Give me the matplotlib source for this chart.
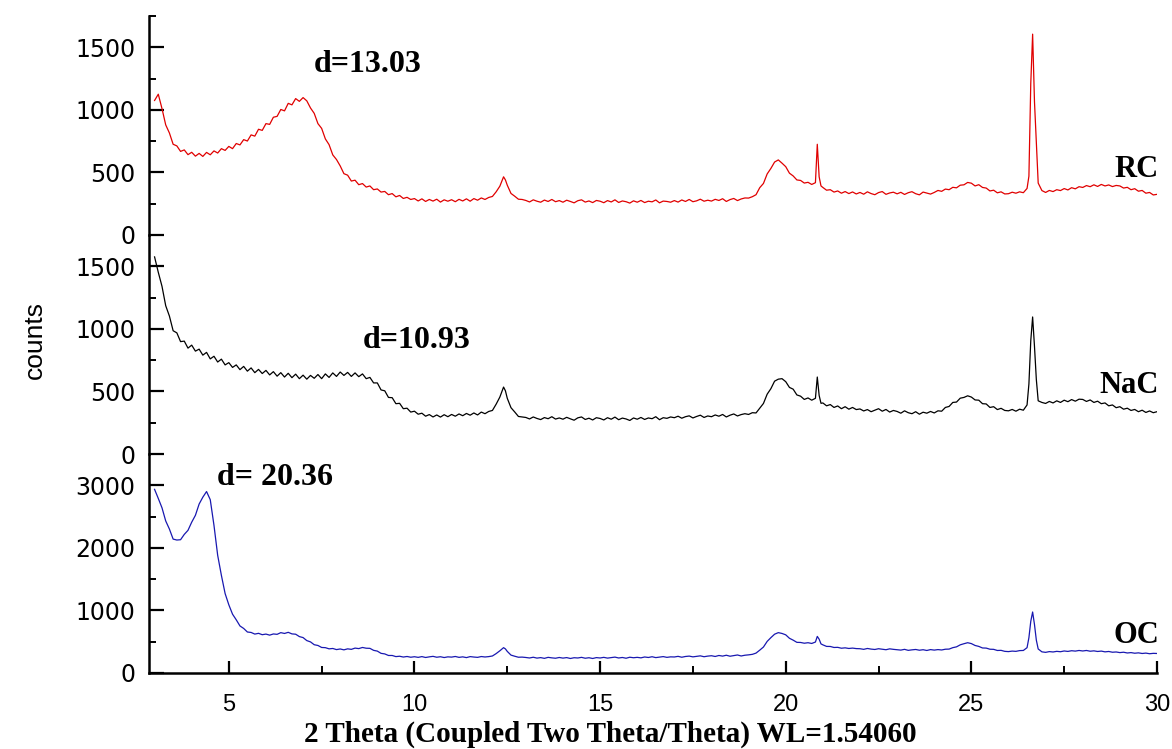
import matplotlib
matplotlib.use("Agg")
import matplotlib.pyplot as plt
from matplotlib.ticker import MultipleLocator

# 2 theta scan positions (degrees), shared by the three patterns
two_theta = [
    3.0, 3.1, 3.2, 3.3, 3.4, 3.5, 3.6, 3.7, 3.8, 3.9,
    4.0, 4.1, 4.2, 4.3, 4.4, 4.5, 4.6, 4.7, 4.8, 4.9,
    5.0, 5.1, 5.2, 5.3, 5.4, 5.5, 5.6, 5.7, 5.8, 5.9,
    6.0, 6.1, 6.2, 6.3, 6.4, 6.5, 6.6, 6.7, 6.8, 6.9,
    7.0, 7.1, 7.2, 7.3, 7.4, 7.5, 7.6, 7.7, 7.8, 7.9,
    8.0, 8.1, 8.2, 8.3, 8.4, 8.5, 8.6, 8.7, 8.8, 8.9,
    9.0, 9.1, 9.2, 9.3, 9.4, 9.5, 9.6, 9.7, 9.8, 9.9,
    10.0, 10.1, 10.2, 10.3, 10.4, 10.5, 10.6, 10.7, 10.8, 10.9,
    11.0, 11.1, 11.2, 11.3, 11.4, 11.5, 11.6, 11.7, 11.8, 11.9,
    12.0, 12.1, 12.2, 12.3, 12.4, 12.45, 12.5, 12.6, 12.7, 12.8, 12.9,
    13.0, 13.1, 13.2, 13.3, 13.4, 13.5, 13.6, 13.7, 13.8, 13.9,
    14.0, 14.1, 14.2, 14.3, 14.4, 14.5, 14.6, 14.7, 14.8, 14.9,
    15.0, 15.1, 15.2, 15.3, 15.4, 15.5, 15.6, 15.7, 15.8, 15.9,
    16.0, 16.1, 16.2, 16.3, 16.4, 16.5, 16.6, 16.7, 16.8, 16.9,
    17.0, 17.1, 17.2, 17.3, 17.4, 17.5, 17.6, 17.7, 17.8, 17.9,
    18.0, 18.1, 18.2, 18.3, 18.4, 18.5, 18.6, 18.7, 18.8, 18.9,
    19.0, 19.1, 19.2, 19.3, 19.4, 19.5, 19.6, 19.7, 19.8, 19.9,
    20.0, 20.1, 20.2, 20.3, 20.4, 20.5, 20.6, 20.7, 20.8, 20.85, 20.9, 20.95,
    21.0, 21.1, 21.2, 21.3, 21.4, 21.5, 21.6, 21.7, 21.8, 21.9,
    22.0, 22.1, 22.2, 22.3, 22.4, 22.5, 22.6, 22.7, 22.8, 22.9,
    23.0, 23.1, 23.2, 23.3, 23.4, 23.5, 23.6, 23.7, 23.8, 23.9,
    24.0, 24.1, 24.2, 24.3, 24.4, 24.5, 24.6, 24.7, 24.8, 24.9,
    25.0, 25.1, 25.2, 25.3, 25.4, 25.5, 25.6, 25.7, 25.8, 25.9,
    26.0, 26.1, 26.2, 26.3, 26.4, 26.5, 26.55, 26.6, 26.65, 26.7, 26.75, 26.8, 26.9,
    27.0, 27.1, 27.2, 27.3, 27.4, 27.5, 27.6, 27.7, 27.8, 27.9,
    28.0, 28.1, 28.2, 28.3, 28.4, 28.5, 28.6, 28.7, 28.8, 28.9,
    29.0, 29.1, 29.2, 29.3, 29.4, 29.5, 29.6, 29.7, 29.8, 29.9,
    30.0,
]

rc_counts = [
    1075, 1125, 1010, 880, 815, 725, 712, 668, 680, 642,
    661, 630, 652, 628, 660, 641, 672, 655, 690, 676,
    708, 690, 731, 720, 762, 751, 800, 790, 845, 836,
    890, 884, 941, 948, 1003, 992, 1052, 1040, 1090, 1068,
    1098, 1072, 1015, 972, 890, 852, 768, 722, 640, 603,
    552, 490, 478, 431, 438, 402, 411, 383, 392, 362,
    368, 343, 348, 322, 331, 305, 316, 292, 301, 284,
    291, 272, 289, 268, 284, 271, 286, 263, 281, 270,
    282, 266, 285, 272, 289, 270, 291, 278, 296, 284,
    300, 308, 345, 390, 465, 440, 398, 332, 310, 286, 284,
    276, 264, 281, 270, 262, 279, 268, 284, 266, 275,
    262, 278, 268, 257, 274, 281, 263, 272, 259, 276,
    270, 258, 275, 264, 281, 260, 272, 266, 255, 273,
    262, 276, 259, 270, 265, 280, 257, 271, 268, 262,
    275, 263, 280, 268, 284, 266, 273, 286, 270, 278,
    271, 285, 276, 290, 268, 283, 292, 275, 288, 296,
    295, 306, 322, 378, 412, 488, 532, 583, 600, 574,
    546, 494, 472, 440, 436, 415, 421, 404, 418, 725, 465, 392,
    380, 358, 362, 343, 352, 334, 347, 331, 344, 328,
    340, 326, 345, 331, 322, 339, 347, 325, 336, 342,
    329, 341, 324, 338, 346, 330, 321, 343, 335, 327,
    340, 356, 349, 367, 362, 381, 377, 398, 401, 420,
    414, 392, 402, 380, 375, 352, 358, 337, 345, 328,
    330, 342, 334, 345, 338, 372, 470, 1210, 1605, 1065, 730, 415, 355,
    340, 356, 347, 362, 355, 371, 360, 378, 369, 386,
    380, 395, 386, 401, 388, 404, 392, 400, 387, 396,
    392, 375, 381, 362, 370, 350, 356, 334, 340, 320,
    325,
]

nac_counts = [
    1575, 1452, 1340, 1185, 1102, 985, 968, 898, 902, 846,
    870, 822, 838, 790, 812, 760, 781, 735, 758, 712,
    730, 692, 712, 674, 700, 662, 688, 650, 676, 643,
    668, 632, 658, 622, 650, 615, 645, 610, 638, 602,
    630, 598, 628, 605, 635, 602, 640, 612, 648, 620,
    655, 628, 652, 620, 648, 618, 640, 602, 612, 568,
    568, 512, 505, 452, 450, 402, 405, 362, 366, 335,
    342, 318, 326, 302, 315, 296, 312, 295, 314, 298,
    316, 302, 320, 306, 324, 310, 328, 312, 335, 322,
    340, 348, 398, 455, 535, 505, 445, 370, 336, 300, 296,
    292, 280, 296, 284, 275, 291, 282, 298, 279, 288,
    278, 293, 281, 270, 289, 296, 276, 286, 272, 290,
    284, 272, 290, 278, 295, 274, 287, 280, 268, 288,
    278, 292, 276, 288, 282, 298, 274, 290, 285, 296,
    290, 302, 286, 298, 305, 288, 300, 310, 292, 304,
    298, 312, 302, 316, 296, 310, 320, 304, 315, 322,
    316, 330, 328, 366, 404, 478, 522, 582, 598, 602,
    578, 532, 518, 472, 462, 436, 448, 430, 445, 615, 468, 405,
    408, 385, 395, 372, 384, 362, 378, 358, 372, 355,
    360, 344, 355, 338, 350, 362, 342, 356, 335, 348,
    340, 326, 345, 330, 322, 338, 318, 334, 326, 340,
    328, 345, 342, 372, 380, 412, 415, 446, 452, 465,
    455, 432, 430, 402, 400, 372, 378, 355, 365, 348,
    345, 356, 342, 358, 350, 392, 560, 905, 1095, 860, 595, 425, 412,
    404, 420, 408, 425, 412, 430, 418, 435, 422, 438,
    436, 420, 432, 412, 422, 402, 408, 385, 392, 370,
    378, 358, 366, 348, 356, 338, 350, 332, 344, 330,
    338,
]

oc_counts = [
    2935, 2790, 2640, 2430, 2300, 2140, 2125, 2130, 2215, 2280,
    2410, 2520, 2700, 2810, 2900, 2770, 2360, 1880, 1560, 1270,
    1090, 940, 850, 752, 712, 655, 648, 622, 634, 612,
    622, 605, 624, 618, 645, 632, 650, 625, 620, 582,
    566, 518, 497, 452, 440, 408, 405, 386, 392, 374,
    384, 370, 386, 378, 398, 390, 408, 396, 394, 362,
    350, 314, 305, 280, 280, 262, 268, 255, 264, 252,
    260, 250, 262, 248, 258, 266, 252, 260, 247, 258,
    254, 264, 250, 258, 246, 262, 255, 250, 263, 256,
    262, 272, 310, 355, 405, 385, 345, 286, 268, 252, 254,
    248, 240, 252, 238, 246, 234, 250, 242, 236, 248,
    238, 246, 232, 244, 240, 250, 236, 244, 232, 246,
    240, 250, 238, 246, 254, 240, 248, 236, 252, 244,
    250, 242, 256, 248, 260, 246, 254, 262, 250, 258,
    256, 266, 252, 264, 270, 258, 266, 274, 260, 270,
    276, 264, 280, 270, 284, 268, 278, 288, 272, 284,
    290, 298, 318, 365, 415, 505, 565, 620, 645, 632,
    610, 555, 525, 490, 488, 476, 484, 472, 495, 585, 540, 465,
    450, 425, 424, 408, 410, 396, 402, 392, 398, 390,
    388, 378, 392, 382, 376, 388, 380, 372, 386, 378,
    372, 366, 378, 362, 370, 376, 364, 372, 360, 374,
    366, 374, 368, 380, 382, 405, 418, 450, 468, 484,
    470, 440, 425, 400, 398, 380, 378, 360, 362, 346,
    342, 350, 346, 358, 360, 405, 565, 825, 975, 775, 525, 384, 338,
    330, 342, 336, 346, 340, 352, 345, 356, 350, 360,
    352, 360, 348, 354, 344, 350, 338, 344, 332, 336,
    326, 332, 320, 326, 316, 322, 312, 318, 308, 314,
    312,
]

sample_names = ["RC", "NaC", "OC"]
d_labels = ["d=13.03", "d=10.93", "d= 20.36"]
d_label_pos = [(8.75, 1360), (10.05, 910), (6.25, 3120)]
name_label_y = [520, 545, 600]
y_limits = [1750, 1750, 3500]
y_major = [500, 500, 1000]
line_colors = ["#e00000", "#000000", "#1818b0"]

SERIF_BOLD = dict(family="Liberation Serif", fontweight="bold")


def style_panel(ax, top, major, is_bottom):
    ax.set_xlim(2.85, 30)
    ax.set_ylim(0, top)
    for side in ("top", "right"):
        ax.spines[side].set_visible(False)
    ax.spines["left"].set_linewidth(1.8)
    ax.spines["bottom"].set_linewidth(1.8)
    ax.spines["bottom"].set_visible(is_bottom)

    ax.yaxis.set_major_locator(MultipleLocator(major))
    ax.yaxis.set_minor_locator(MultipleLocator(major / 2))
    ax.xaxis.set_major_locator(MultipleLocator(5))
    ax.xaxis.set_minor_locator(MultipleLocator(2.5))

    ax.tick_params(axis="y", which="major", direction="in", length=11, width=1.6,
                   pad=10, labelsize=17)
    ax.tick_params(axis="y", which="minor", direction="in", length=5, width=1.4)
    ax.tick_params(axis="x", which="major", direction="in", length=9, width=1.6,
                   pad=15, labelsize=17, bottom=is_bottom, labelbottom=is_bottom)
    ax.tick_params(axis="x", which="minor", direction="in", length=5, width=1.4,
                   bottom=is_bottom)
    for lab in ax.get_yticklabels():
        lab.set_family("DejaVu Sans")
    for lab in ax.get_xticklabels():
        lab.set_family("Liberation Sans")


fig = plt.figure(figsize=(11.72, 7.49), dpi=100)

left, width = 149 / 1172, (1157 - 149) / 1172
panel_h = 219 / 749
bottoms = [1 - 235 / 749, 1 - 454 / 749, 1 - 673 / 749]
series = [rc_counts, nac_counts, oc_counts]

for i in range(3):
    ax = fig.add_axes([left, bottoms[i], width, panel_h])
    ax.patch.set_alpha(0)
    ax.plot(two_theta, series[i], color=line_colors[i], linewidth=0.9)
    style_panel(ax, y_limits[i], y_major[i], i == 2)
    ax.text(d_label_pos[i][0], d_label_pos[i][1], d_labels[i], ha="center",
            va="center", fontsize=23, **SERIF_BOLD)
    ax.text(30.05, name_label_y[i], sample_names[i], ha="right", va="center",
            fontsize=22, **SERIF_BOLD)

fig.text(35 / 1172, 1 - 340 / 749, "counts", rotation=90, ha="center",
         va="center", fontsize=19, family="Liberation Sans")
fig.text(610 / 1172, 1.5 / 749, "2 Theta (Coupled Two Theta/Theta) WL=1.54060",
         ha="center", va="bottom", fontsize=21, **SERIF_BOLD)

fig.savefig("out.png", dpi=100)
